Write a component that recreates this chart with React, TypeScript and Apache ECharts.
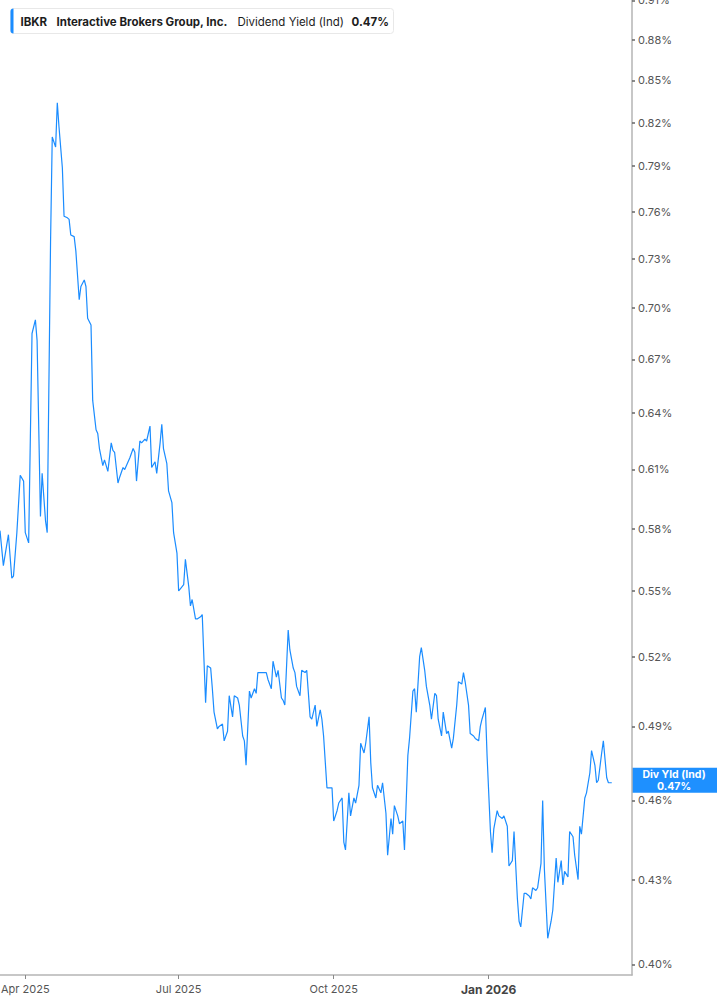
import { useEffect, useRef } from 'react'
import * as echarts from 'echarts'

// dividend yield (%) of IBKR, one point per reading
const dates = [
  '2025-03-17', '2025-03-19', '2025-03-22', '2025-03-24', '2025-03-25', '2025-03-27', '2025-03-29', '2025-03-31',
  '2025-04-01', '2025-04-03', '2025-04-05', '2025-04-07', '2025-04-08', '2025-04-10', '2025-04-11', '2025-04-13',
  '2025-04-14', '2025-04-16', '2025-04-17', '2025-04-19', '2025-04-20', '2025-04-21', '2025-04-23', '2025-04-24',
  '2025-04-26', '2025-04-27', '2025-04-28', '2025-04-30', '2025-05-01', '2025-05-03', '2025-05-04', '2025-05-06',
  '2025-05-07', '2025-05-08', '2025-05-10', '2025-05-11', '2025-05-13', '2025-05-14', '2025-05-15', '2025-05-17',
  '2025-05-18', '2025-05-20', '2025-05-22', '2025-05-23', '2025-05-24', '2025-05-26', '2025-05-27', '2025-05-29',
  '2025-05-30', '2025-06-01', '2025-06-02', '2025-06-04', '2025-06-05', '2025-06-06', '2025-06-08', '2025-06-09',
  '2025-06-11', '2025-06-12', '2025-06-14', '2025-06-15', '2025-06-17', '2025-06-18', '2025-06-20', '2025-06-21',
  '2025-06-22', '2025-06-24', '2025-06-25', '2025-06-27', '2025-06-28', '2025-06-30', '2025-07-01', '2025-07-02',
  '2025-07-04', '2025-07-05', '2025-07-07', '2025-07-08', '2025-07-09', '2025-07-11', '2025-07-12', '2025-07-14',
  '2025-07-15', '2025-07-17', '2025-07-18', '2025-07-20', '2025-07-21', '2025-07-22', '2025-07-24', '2025-07-25',
  '2025-07-27', '2025-07-28', '2025-07-30', '2025-07-31', '2025-08-02', '2025-08-03', '2025-08-05', '2025-08-06',
  '2025-08-08', '2025-08-09', '2025-08-10', '2025-08-12', '2025-08-13', '2025-08-15', '2025-08-16', '2025-08-17',
  '2025-08-19', '2025-08-20', '2025-08-22', '2025-08-23', '2025-08-25', '2025-08-26', '2025-08-28', '2025-08-29',
  '2025-08-31', '2025-09-01', '2025-09-02', '2025-09-04', '2025-09-05', '2025-09-07', '2025-09-08', '2025-09-09',
  '2025-09-11', '2025-09-12', '2025-09-14', '2025-09-15', '2025-09-17', '2025-09-18', '2025-09-20', '2025-09-21',
  '2025-09-23', '2025-09-24', '2025-09-25', '2025-09-27', '2025-09-29', '2025-09-30', '2025-10-01', '2025-10-03',
  '2025-10-04', '2025-10-06', '2025-10-07', '2025-10-08', '2025-10-10', '2025-10-11', '2025-10-13', '2025-10-14',
  '2025-10-16', '2025-10-17', '2025-10-19', '2025-10-20', '2025-10-22', '2025-10-23', '2025-10-24', '2025-10-26',
  '2025-10-27', '2025-10-29', '2025-10-30', '2025-11-01', '2025-11-02', '2025-11-04', '2025-11-05', '2025-11-06',
  '2025-11-08', '2025-11-09', '2025-11-11', '2025-11-12', '2025-11-14', '2025-11-15', '2025-11-17', '2025-11-18',
  '2025-11-19', '2025-11-21', '2025-11-22', '2025-11-24', '2025-11-25', '2025-11-27', '2025-11-28', '2025-11-30',
  '2025-12-01', '2025-12-02', '2025-12-04', '2025-12-05', '2025-12-07', '2025-12-08', '2025-12-10', '2025-12-11',
  '2025-12-13', '2025-12-14', '2025-12-16', '2025-12-17', '2025-12-18', '2025-12-20', '2025-12-21', '2025-12-23',
  '2025-12-24', '2025-12-26', '2025-12-27', '2025-12-28', '2025-12-30', '2025-12-31', '2026-01-02', '2026-01-03',
  '2026-01-04', '2026-01-06', '2026-01-07', '2026-01-09', '2026-01-10', '2026-01-12', '2026-01-13', '2026-01-15',
  '2026-01-16', '2026-01-18', '2026-01-19', '2026-01-20', '2026-01-22', '2026-01-23', '2026-01-25', '2026-01-26',
  '2026-01-27', '2026-01-29', '2026-01-30', '2026-02-01', '2026-02-02', '2026-02-03', '2026-02-05', '2026-02-07',
  '2026-02-08', '2026-02-10', '2026-02-11', '2026-02-13', '2026-02-14', '2026-02-15', '2026-02-17', '2026-02-18',
  '2026-02-20', '2026-02-21', '2026-02-23', '2026-02-24', '2026-02-25', '2026-02-27', '2026-02-28', '2026-03-02',
  '2026-03-03', '2026-03-05', '2026-03-06', '2026-03-07', '2026-03-09', '2026-03-10', '2026-03-12', '2026-03-13',
  '2026-03-15',
]

const yields = [
  0.579, 0.562, 0.577, 0.556, 0.557, 0.578, 0.607, 0.604,
  0.578, 0.573, 0.685, 0.693, 0.681, 0.586, 0.608, 0.584,
  0.578, 0.741, 0.810, 0.803, 0.834, 0.817, 0.789, 0.757,
  0.756, 0.755, 0.745, 0.744, 0.735, 0.705, 0.713, 0.717,
  0.713, 0.694, 0.690, 0.647, 0.631, 0.629, 0.621, 0.612,
  0.615, 0.609, 0.624, 0.620, 0.619, 0.603, 0.606, 0.611,
  0.610, 0.614, 0.616, 0.621, 0.619, 0.604, 0.625, 0.624,
  0.626, 0.625, 0.633, 0.611, 0.614, 0.608, 0.624, 0.634,
  0.621, 0.613, 0.599, 0.593, 0.578, 0.568, 0.550, 0.551,
  0.553, 0.565, 0.552, 0.543, 0.546, 0.537, 0.537, 0.538,
  0.539, 0.500, 0.516, 0.515, 0.506, 0.496, 0.489, 0.490,
  0.491, 0.484, 0.488, 0.503, 0.494, 0.503, 0.502, 0.499,
  0.486, 0.484, 0.474, 0.505, 0.502, 0.506, 0.504, 0.513,
  0.513, 0.513, 0.513, 0.510, 0.506, 0.518, 0.511, 0.514,
  0.502, 0.501, 0.499, 0.532, 0.523, 0.515, 0.513, 0.507,
  0.503, 0.514, 0.513, 0.514, 0.494, 0.493, 0.499, 0.490,
  0.497, 0.493, 0.486, 0.465, 0.465, 0.465, 0.452, 0.456,
  0.459, 0.461, 0.444, 0.441, 0.463, 0.454, 0.461, 0.459,
  0.466, 0.483, 0.479, 0.483, 0.494, 0.475, 0.465, 0.461,
  0.466, 0.463, 0.467, 0.455, 0.439, 0.453, 0.447, 0.458,
  0.454, 0.451, 0.452, 0.441, 0.478, 0.485, 0.505, 0.506,
  0.496, 0.520, 0.524, 0.514, 0.507, 0.499, 0.493, 0.504,
  0.503, 0.493, 0.486, 0.496, 0.487, 0.488, 0.481, 0.485,
  0.499, 0.509, 0.508, 0.513, 0.509, 0.499, 0.487, 0.486,
  0.485, 0.484, 0.490, 0.493, 0.498, 0.478, 0.448, 0.440,
  0.449, 0.456, 0.454, 0.453, 0.454, 0.450, 0.435, 0.437,
  0.448, 0.423, 0.415, 0.413, 0.425, 0.425, 0.424, 0.423,
  0.427, 0.426, 0.427, 0.436, 0.460, 0.434, 0.409, 0.415,
  0.419, 0.438, 0.429, 0.437, 0.428, 0.433, 0.431, 0.448,
  0.446, 0.439, 0.430, 0.450, 0.447, 0.461, 0.463, 0.471,
  0.480, 0.474, 0.467, 0.468, 0.479, 0.484, 0.469, 0.467,
  0.467,
]

const yTicks = [0.40, 0.43, 0.46, 0.49, 0.52, 0.55, 0.58, 0.61, 0.64, 0.67, 0.70, 0.73, 0.76, 0.79, 0.82, 0.85, 0.88, 0.91]
const xTicks = ['2025-04-01', '2025-07-01', '2025-10-01', '2026-01-01']
const xTickLabels = ['Apr 2025', 'Jul 2025', 'Oct 2025', 'Jan 2026']
const boldTick = 'Jan 2026'

const ticker = 'IBKR'
const company = 'Interactive Brokers Group, Inc.'
const metric = 'Dividend Yield (Ind)'
const shortMetric = 'Div Yld (Ind)'
const lastLabel = '0.47%'

const BLUE = '#1a8cff'
const FONT = 'Inter, "Noto Sans", sans-serif'

const toTime = (s: string) => new Date(s + 'T00:00:00').getTime()

export default function App() {
  const chartRef = useRef<HTMLDivElement>(null)

  useEffect(() => {
    if (!chartRef.current) return
    const chart = echarts.init(chartRef.current, null, { renderer: 'svg' })

    const xTickTimes = xTicks.map(toTime)
    const yTickLogs = yTicks.map(Math.log)
    const lastValue = yields[yields.length - 1]

    const option: any = {
      animation: false,
      textStyle: { fontFamily: FONT },
      grid: { left: 0, right: 85, top: 0, bottom: 30, containLabel: false, outerBoundsMode: 'none' },
      // dates as timestamps on a plain value axis, so custom ticks work
      xAxis: {
        type: 'value',
        min: toTime('2025-03-17'),
        max: toTime('2026-03-27'),
        axisLine: { lineStyle: { color: '#b5b5b5', width: 1.5 } },
        axisTick: {
          show: true,
          length: 4,
          customValues: xTickTimes,
          lineStyle: { color: '#888', width: 1 }
        },
        axisLabel: {
          customValues: xTickTimes,
          margin: 8,
          color: '#555',
          fontSize: 11,
          fontFamily: FONT,
          formatter: (val: number) => {
            let i = -1
            xTickTimes.forEach((t, k) => { if (Math.abs(t - val) < 3600000) i = k })
            const label = i >= 0 ? xTickLabels[i] : ''
            return label === boldTick ? `{b|${label}}` : label
          },
          rich: {
            b: { fontWeight: 'bold', fontSize: 12, color: '#444', fontFamily: FONT }
          }
        },
        splitLine: { show: false }
      },
      // log scale drawn as ln(value)
      yAxis: {
        type: 'value',
        position: 'right',
        min: Math.log(0.3964),
        max: Math.log(0.9103),
        axisLine: { show: true, lineStyle: { color: '#b5b5b5', width: 1.5 } },
        axisTick: {
          show: true,
          length: 3,
          customValues: yTickLogs,
          lineStyle: { color: '#666', width: 1.5 }
        },
        axisLabel: {
          customValues: yTickLogs,
          margin: 6,
          color: '#555',
          fontSize: 11,
          fontFamily: FONT,
          formatter: (val: number) => Math.exp(val).toFixed(2) + '%'
        },
        splitLine: { show: false }
      },
      series: [
        {
          type: 'line',
          data: dates.map((d, i) => [toTime(d), Math.log(yields[i])]),
          showSymbol: false,
          symbol: 'none',
          lineStyle: { color: BLUE, width: 1.2 },
          clip: true
        }
      ]
    }

    chart.setOption(option)

    // legend box and last value badge
    const lastY = chart.convertToPixel({ yAxisIndex: 0 }, Math.log(lastValue)) as number
    chart.setOption({
      graphic: [
        {
          type: 'group',
          left: 10,
          top: 8,
          children: [
            {
              type: 'rect',
              shape: { x: 0, y: 0, width: 383, height: 25, r: 3 },
              style: { fill: '#fff', stroke: '#e8e8e8', lineWidth: 1 }
            },
            {
              type: 'rect',
              shape: { x: 0, y: 0, width: 3, height: 25, r: [3, 0, 0, 3] },
              style: { fill: BLUE }
            },
            {
              type: 'text',
              x: 10, y: 13,
              style: { text: ticker, fill: '#1d1d1d', font: `bold 11.5px ${FONT}`, verticalAlign: 'middle' }
            },
            {
              type: 'text',
              x: 46, y: 13,
              style: { text: company, fill: '#1d1d1d', font: `bold 11.5px ${FONT}`, verticalAlign: 'middle' }
            },
            {
              type: 'text',
              x: 227, y: 13,
              style: { text: metric, fill: '#1d1d1d', font: `11.5px ${FONT}`, verticalAlign: 'middle' }
            },
            {
              type: 'text',
              x: 341, y: 13,
              style: { text: lastLabel, fill: '#1d1d1d', font: `bold 11.5px ${FONT}`, verticalAlign: 'middle' }
            }
          ]
        },
        {
          type: 'group',
          x: 632,
          y: lastY - 15,
          children: [
            {
              type: 'rect',
              shape: { x: 0, y: 0, width: 85, height: 25 },
              style: { fill: '#1e90ff' }
            },
            {
              type: 'text',
              x: 42, y: 7,
              style: {
                text: shortMetric,
                fill: '#fff',
                font: `bold 10.5px ${FONT}`,
                lineHeight: 10.5,
                align: 'center',
                verticalAlign: 'middle'
              }
            },
            {
              type: 'text',
              x: 42, y: 18.5,
              style: {
                text: lastLabel,
                fill: '#fff',
                font: `bold 10.5px ${FONT}`,
                lineHeight: 10.5,
                align: 'center',
                verticalAlign: 'middle'
              }
            }
          ]
        }
      ]
    })

    return () => {
      chart.dispose()
    }
  }, [])

  return (
    <div
      ref={chartRef}
      style={{ position: 'fixed', left: 0, top: 0, width: '717px', height: '1005px', background: '#fff' }}
    />
  )
}
